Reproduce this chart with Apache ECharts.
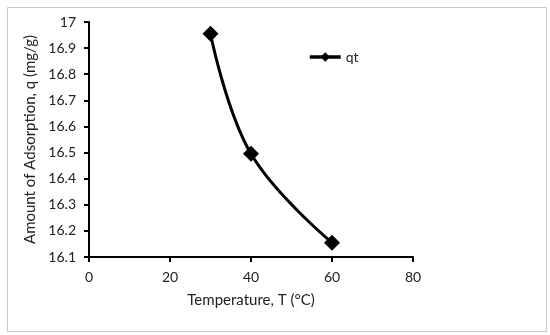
<!DOCTYPE html>
<html><head><meta charset="utf-8">
<script src="https://cdn.jsdelivr.net/npm/echarts@6/dist/echarts.min.js"></script>
<style>html,body{margin:0;padding:0;background:#fff}#c{width:550px;height:335px}</style>
</head><body><div id="c"></div>
<script>
const temperatures = [30, 40, 60];
const qtValues = [16.955, 16.495, 16.155];
const seriesName = 'qt';
const xTitle = 'Temperature, T (°C)';
const yTitle = 'Amount of Adsorption, q (mg/g)';

const chart = echarts.init(document.getElementById('c'), null, {renderer: 'canvas'});
const font = 'Lato, "Open Sans", sans-serif';
chart.setOption({
  animation: false,
  backgroundColor: '#fff',
  graphic: [{type: 'rect', left: 5, top: 5, shape: {width: 539, height: 324}, style: {fill: 'none', stroke: '#c8c8c8', lineWidth: 1}}],
  grid: {left: 89, right: 137, top: 22, bottom: 78},
  legend: {
    left: 308, top: 50, itemWidth: 31, itemHeight: 12, itemGap: 2, padding: 0,
    lineStyle: {width: 3.5, color: '#000'},
    textStyle: {fontFamily: font, fontSize: 14, color: '#222'},
    data: [seriesName]
  },
  xAxis: {
    type: 'value', min: 0, max: 80, interval: 20,
    name: xTitle, nameLocation: 'middle', nameGap: 36,
    nameTextStyle: {fontFamily: font, fontSize: 15, color: '#222'},
    axisLine: {lineStyle: {color: '#000', width: 2}},
    axisTick: {show: true, inside: false, length: 5, lineStyle: {color: '#000', width: 2}},
    axisLabel: {fontFamily: font, fontSize: 14, color: '#222', margin: 13},
    splitLine: {show: false}
  },
  yAxis: {
    type: 'value', min: 16.1, max: 17, interval: 0.1,
    name: yTitle, nameLocation: 'middle', nameGap: 45,
    nameTextStyle: {fontFamily: font, fontSize: 15, color: '#222'},
    axisLine: {show: true, lineStyle: {color: '#000', width: 2}},
    axisTick: {show: true, inside: false, length: 5, lineStyle: {color: '#000', width: 2}},
    axisLabel: {fontFamily: font, fontSize: 14, color: '#222', margin: 13,
      formatter: v => String(Math.round(v * 10) / 10)},
    splitLine: {show: false}
  },
  series: [{
    name: seriesName, type: 'line', smooth: 0.4,
    data: temperatures.map((t, i) => [t, qtValues[i]]),
    symbol: 'diamond', symbolSize: 16,
    lineStyle: {color: '#000', width: 3},
    itemStyle: {color: '#000'}
  }]
});
</script></body></html>
